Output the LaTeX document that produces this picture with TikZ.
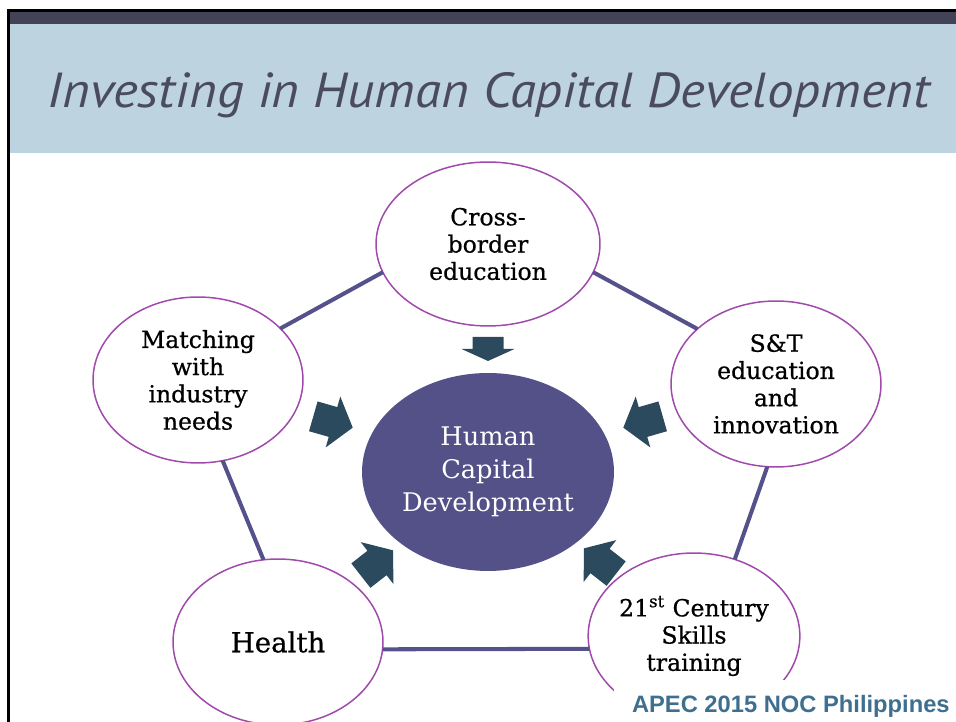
\documentclass[tikz,border=0pt]{standalone}
\usepackage{fontspec}
\newfontfamily\bubblefont[FakeBold=0.7]{DejaVu Serif}
\newfontfamily\corefont{DejaVu Serif}
\newfontfamily\titlefont{PT Sans}
\newfontfamily\footfont{Liberation Sans}
\usetikzlibrary{shapes.geometric}
\definecolor{bandblue}{HTML}{BDD3E0}
\definecolor{bandtop}{HTML}{434357}
\definecolor{titlegray}{HTML}{4B4B5E}
\definecolor{rimpurple}{HTML}{A04AAC}
\definecolor{linkslate}{HTML}{55518A}
\definecolor{corefill}{HTML}{545189}
\definecolor{flowfill}{HTML}{2C4A5E}
\definecolor{footblue}{HTML}{3F6F8F}
\tikzset{
    bubble/.style = {
        draw = rimpurple,
        line width = 0.85pt,
        fill = white,
        ellipse,
        inner sep = 0pt,
        outer sep = 0pt,
        minimum width = 4.2cm,
        minimum height = 3.32cm,
        align = center,
        font = \bubblefont\fontsize{13.4}{15.5}\selectfont,
        },
    core/.style = {
        fill = corefill,
        text = white,
        ellipse,
        inner sep = 0pt,
        outer sep = 0pt,
        minimum width = 5.04cm,
        minimum height = 3.96cm,
        align = center,
        font = \corefont\fontsize{14.6}{18.7}\selectfont,
        },
    link/.style = {
        draw = linkslate,
        line width = 2.3pt,
        },
    titletext/.style = {
        text = titlegray,
        anchor = base,
        inner sep = 0pt,
        transform shape,
        xscale = 1.08,
        font = \titlefont\itshape\fontsize{28}{30}\selectfont,
        },
    foottext/.style = {
        text = footblue,
        anchor = base east,
        inner sep = 0pt,
        font = \footfont\bfseries\fontsize{13.5}{15}\selectfont,
        },
    pics/inflow/.style = {
        code = {
            \fill[flowfill] (-#1,-15.5) -- (0,-15.5) -- (0,-26.5) -- (#1,0)
                -- (0,26.5) -- (0,15.5) -- (-#1,15.5) -- cycle;
        }
    },
}

\begin{document}
\begin{tikzpicture}[x=0.02cm, y=0.02cm]
            \useasboundingbox (0,0) rectangle (956,722);
            % slide frame
            \fill[bandblue] (10,569) rectangle (956,698);
            \fill[bandtop] (10,698) rectangle (956,710);
            \fill[black] (7,710) rectangle (956,713);
            \fill[black] (7,0) rectangle (10,713);
            \node[titletext] (title) at (489,614) {Investing in Human Capital Development};

            \node[core] (hcd) at (488,250) {Human\\Capital\\Development};
            \node[bubble, minimum width=4.48cm, minimum height=3.28cm] (cross) at (488,478) {Cross-\\border\\education};
            \node[bubble] (match) at (198,342) {Matching\\with\\industry\\needs};
            \node[bubble] (st) at (776,338) {S\&T\\education\\and\\innovation};
            \node[bubble, font=\bubblefont\fontsize{15.7}{18}\selectfont] (health) at (278,80) {Health};
            \node[bubble] (skills) at (694,86) {21\textsuperscript{st} Century\\Skills\\training};

            \draw[link] (match.32) -- (cross.195);
            \draw[link] (cross.345) -- (st.145);
            \draw[link] (st.264) -- (skills.62);
            \draw[link] (match.287) -- (health.100);
            \draw[link] (health.356) -- (skills.187);

            \pic[rotate=-90] (top) at (488,373) {inflow=12};
            \pic[rotate=-16] (upleft) at (333,300) {inflow=20.5};
            \pic[rotate=196] (upright) at (643,300) {inflow=20.5};
            \pic[rotate=38] (lowleft) at (377,159) {inflow=20.5};
            \pic[rotate=142] (lowright) at (600,161) {inflow=20.5};

            \fill[white] (614,0) rectangle (956,42);
            \node[foottext] (foot) at (950,9) {APEC 2015 NOC Philippines};
        \end{tikzpicture}
\end{document}
